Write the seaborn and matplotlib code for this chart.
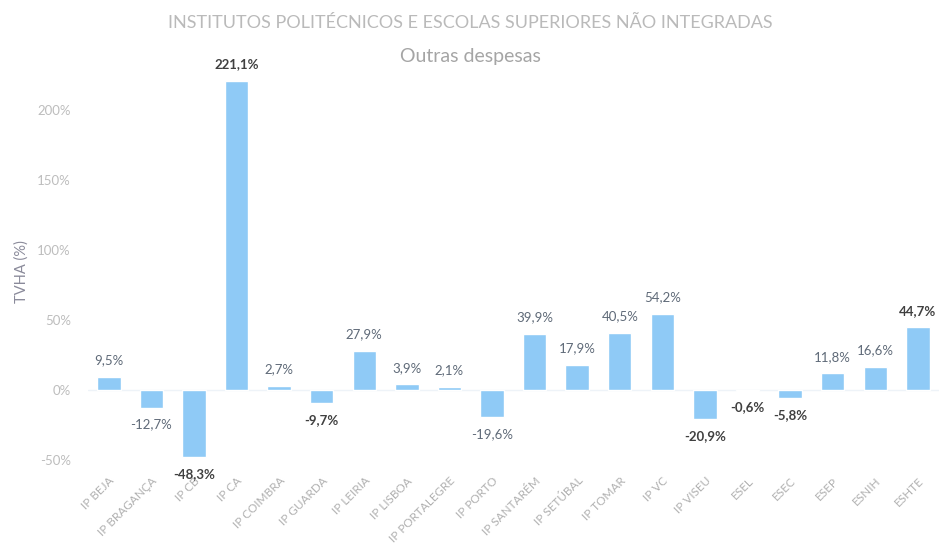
import matplotlib
matplotlib.use("Agg")
import matplotlib.pyplot as plt
import seaborn as sns
import pandas as pd

categories = ["IP BEJA", "IP BRAGANÇA", "IP CB", "IP CA", "IP COIMBRA", "IP GUARDA",
              "IP LEIRIA", "IP LISBOA", "IP PORTALEGRE", "IP PORTO", "IP SANTARÉM",
              "IP SETÚBAL", "IP TOMAR", "IP VC", "IP VISEU", "ESEL", "ESEC", "ESEP",
              "ESNIH", "ESHTE"]
values = [9.5, -12.7, -48.3, 221.1, 2.7, -9.7, 27.9, 3.9, 2.1, -19.6, 39.9,
          17.9, 40.5, 54.2, -20.9, -0.6, -5.8, 11.8, 16.6, 44.7]
bold_labels = [False, False, True, True, False, True, False, False, False, False, False,
               False, False, False, True, True, True, False, False, True]
yticks = [-50, 0, 50, 100, 150, 200]

sns.set_theme(style="white")
plt.rcParams["font.family"] = ["Lato", "DejaVu Sans"]

df = pd.DataFrame({"cat": categories, "val": values})

fig = plt.figure(figsize=(9.41, 5.46), dpi=100)
ax = fig.add_axes([0.093, 0.145, 0.905, 0.717])
sns.barplot(data=df, x="cat", y="val", color="#8fcaf6", saturation=1, width=0.55, ax=ax)

ax.set_xlim(-0.5, len(categories) - 0.5)
ax.set_ylim(-55, 225)
ax.set_yticks(yticks)
ax.set_yticklabels([f"{t}%" for t in yticks], color="#bdbdbd", fontsize=9.5)
ax.set_xticks(range(len(categories)))
ax.set_xticklabels(categories, rotation=45, ha="right", rotation_mode="anchor",
                   color="#b0b0b0", fontsize=8.5)
ax.tick_params(axis="y", length=0, pad=12)
ax.tick_params(axis="x", length=0, pad=6)
ax.set_xlabel("")
ax.set_ylabel("TVHA (%)", color="#8a8a9a", fontsize=10.5, labelpad=6)
for s in ax.spines.values():
    s.set_visible(False)
ax.axhline(0, color="#eef3f8", lw=1, zorder=0)

for i, (v, b) in enumerate(zip(values, bold_labels)):
    txt = f"{v:.1f}%".replace(".", ",")
    off = 12 if v >= 0 else -12
    ax.annotate(txt, (i, v), xytext=(0, off), textcoords="offset points",
                ha="center", va="center", fontsize=9.5,
                color="#404040" if b else "#5f6a78",
                fontweight="bold" if b else "normal")

fig.text(0.5, 0.957, "INSTITUTOS POLITÉCNICOS E ESCOLAS SUPERIORES NÃO INTEGRADAS",
         ha="center", va="center", color="#bababa", fontsize=13)
fig.text(0.5, 0.897, "Outras despesas", ha="center", va="center",
         color="#a5a5a5", fontsize=14)

fig.savefig("out.png", dpi=100)
